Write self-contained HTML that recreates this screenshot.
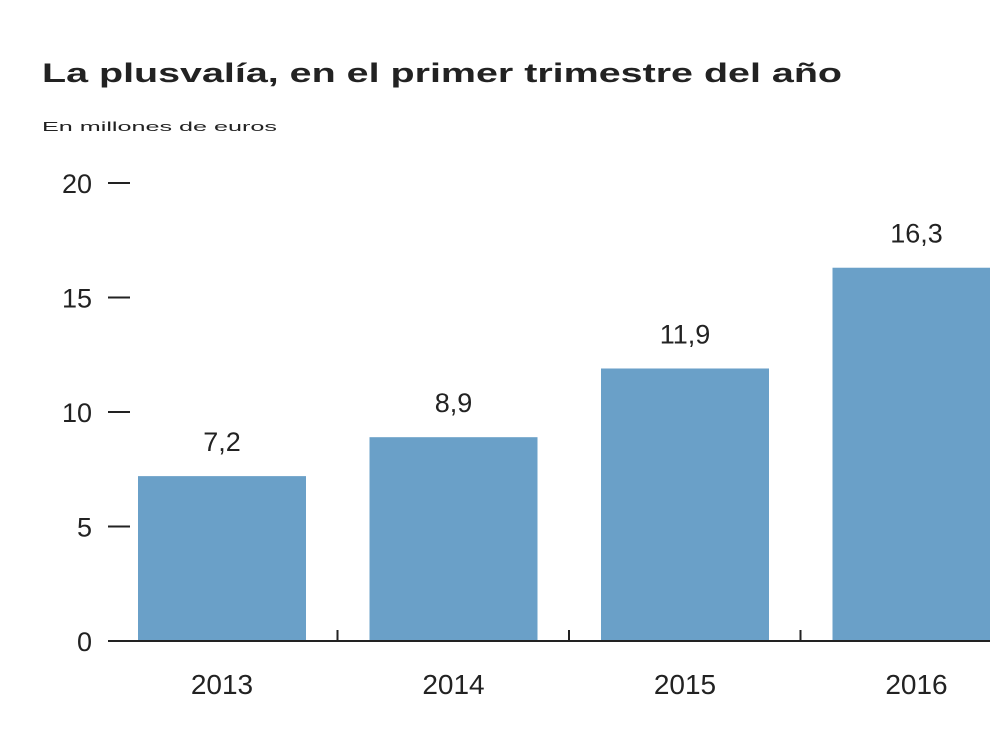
<!DOCTYPE html>
<html><head><meta charset="utf-8"><style>
body{margin:0;width:990px;height:742px;background:#fff;overflow:hidden;font-family:"Liberation Sans",sans-serif}
</style></head><body>
<svg width="990" height="742">
<text x="42" y="82" font-size="27" font-weight="bold" fill="#222" textLength="800" lengthAdjust="spacingAndGlyphs">La plusvalía, en el primer trimestre del año</text>
<text x="42" y="131" font-size="13" fill="#222" textLength="235" lengthAdjust="spacingAndGlyphs">En millones de euros</text>
<g id="y-axis"></g>
<g id="bars"></g>
<line x1="108" y1="641" x2="990" y2="641" stroke="#222" stroke-width="2"/>
<g id="x-axis"></g>
</svg>
<script>
const categories=["2013","2014","2015","2016"];
const values=[7.2,8.9,11.9,16.3];
const valueLabels=["7,2","8,9","11,9","16,3"];
const yTicks=[0,5,10,15,20];
const NS="http://www.w3.org/2000/svg";
const y=v=>641-v*22.9;
const barX=i=>138+i*231.5;
const bw=168;
function mk(tag,attrs,parent,text){const e=document.createElementNS(NS,tag);for(const k in attrs)e.setAttribute(k,attrs[k]);if(text!=null)e.textContent=text;document.getElementById(parent).appendChild(e);return e;}
yTicks.forEach(t=>{
 const l=mk('line',{x1:108,x2:130,y1:y(t),y2:y(t),stroke:'#222','stroke-width':2},'y-axis');
 
 
 const tx=mk('text',{x:92,y:y(t)+10,'font-size':27,'text-anchor':'end',fill:'#222'},'y-axis',String(t));
 
 
});
categories.forEach((c,i)=>{
 const r=mk('rect',{x:barX(i),y:y(values[i]),width:bw,height:641-y(values[i]),fill:'#6aa0c8'},'bars');
 
 
 const v=mk('text',{x:barX(i)+bw/2,y:y(values[i])-25,'font-size':27,'text-anchor':'middle',fill:'#222'},'bars',valueLabels[i]);
 
 
 const xl=mk('text',{x:barX(i)+bw/2,y:694,'font-size':28,'text-anchor':'middle',fill:'#222'},'x-axis',c);
 
 
 if(i>0){const tk=mk('line',{x1:barX(i)-32,x2:barX(i)-32,y1:630,y2:641,stroke:'#222','stroke-width':2},'x-axis');
 
 }
});
</script>
</body></html>
